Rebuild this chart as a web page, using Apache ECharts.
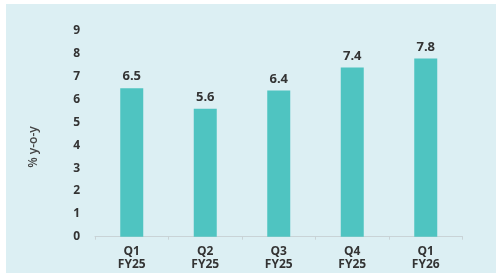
<!DOCTYPE html>
<html><head><meta charset="utf-8">
<script src="https://cdn.jsdelivr.net/npm/echarts@6/dist/echarts.min.js"></script>
<style>html,body{margin:0;padding:0;background:#fff}#c{width:500px;height:280px}</style>
</head><body><div id="c"></div>
<script>
const categories = ['Q1\nFY25','Q2\nFY25','Q3\nFY25','Q4\nFY25','Q1\nFY26'];
const values = [6.5, 5.6, 6.4, 7.4, 7.8];
const yTicks = [0,1,2,3,4,5,6,7,8,9];
const yTitle = '% y-o-y';
const chart = echarts.init(document.getElementById('c'));
const txt = '#333';
chart.setOption({
  animation:false,
  graphic:[
    {type:'rect',shape:{x:6,y:4,width:490,height:269},style:{fill:'#DCEFF3'},z:-10},
    {type:'text',x:34,y:147,rotation:Math.PI/2,
      style:{text:yTitle,fill:'#444',font:'600 12px "Open Sans"',align:'center',verticalAlign:'middle'}}
  ],
  grid:{left:95,right:37.5,top:31,bottom:43.3},
  xAxis:{type:'category',data:categories,
    axisLine:{lineStyle:{color:'#c9d3d6',width:1}},
    axisTick:{show:true,lineStyle:{color:'#c9d3d6'},length:3},
    axisLabel:{color:txt,fontFamily:'Open Sans',fontWeight:700,fontSize:12,lineHeight:13,margin:8}},
  yAxis:{type:'value',min:0,max:9,interval:1,
    axisLine:{show:false},axisTick:{show:false},splitLine:{show:false},
    axisLabel:{color:txt,fontFamily:'Open Sans',fontWeight:700,fontSize:12,margin:15,
      formatter:v=>yTicks.includes(v)?String(v):''}},
  series:[{type:'bar',data:values,barWidth:23,
    itemStyle:{color:'#4FC4C1'},
    label:{show:true,position:'top',distance:5,color:txt,fontFamily:'Open Sans',fontWeight:700,fontSize:13,
      formatter:p=>p.value.toFixed(1)}}]
});
</script></body></html>
